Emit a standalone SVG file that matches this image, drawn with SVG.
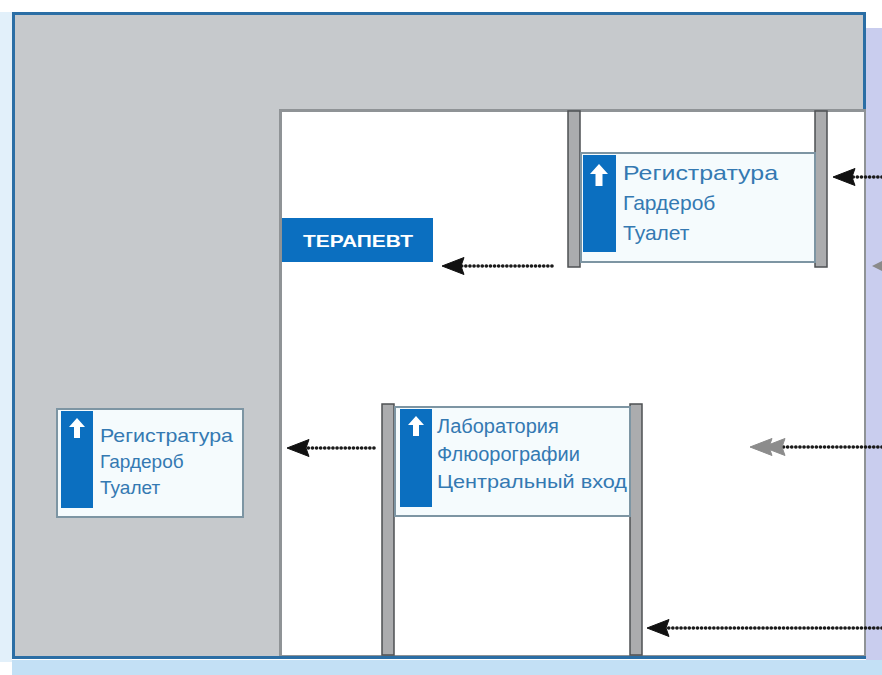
<svg xmlns="http://www.w3.org/2000/svg" width="882" height="675" viewBox="0 0 882 675">
<defs>
<style>
.frame{fill:#c6c9cc;stroke:#2b6ea5;stroke-width:3}
.floor{fill:#ffffff}
.post{fill:#abacae;stroke:#4e5053;stroke-width:1.5}
.panel{fill:#f5fbfd;stroke:#7d95a3;stroke-width:2}
.stripe{fill:#0b6fc0}
.icon{fill:#ffffff}
.lbl{font-family:"Liberation Sans",Arial,sans-serif;fill:#3479b2}
.dots{fill:none;stroke:#1a1a1a;stroke-width:3.6;stroke-dasharray:0.1 4;stroke-linecap:round}
.tag{font-family:"Liberation Sans",Arial,sans-serif;fill:#ffffff;font-size:17px;font-weight:bold}
</style>
<marker id="head" markerUnits="userSpaceOnUse" markerWidth="28" markerHeight="22" viewBox="-26 -11 28 22" refX="-16" refY="0" orient="auto">
<path d="M1,0 L-21,-8.5 L-18,0 L-21,8.5 Z" fill="#111" stroke="#111" stroke-width="1" stroke-linejoin="round"/>
</marker>
<marker id="head2" markerUnits="userSpaceOnUse" markerWidth="44" markerHeight="22" viewBox="-42 -11 44 22" refX="-31" refY="0" orient="auto">
<path d="M1,0 L-21,-8.5 L-18,0 L-21,8.5 Z M-12,0 L-34,-8.5 L-31,0 L-34,8.5 Z" fill="#8c8c8c" stroke="#8c8c8c" stroke-width="1" stroke-linejoin="round"/>
</marker>
</defs>

<g id="background">
<rect x="0" y="0" width="882" height="675" fill="#ffffff"/>
<rect x="866" y="28" width="16" height="632" fill="#c9cdee"/>
<rect x="12" y="660" width="870" height="15" fill="#c3e0f5"/>
<rect x="0" y="12" width="12" height="650" fill="#e2f0fa"/>
<rect class="frame" x="13.5" y="13.5" width="851" height="644"/>
<rect x="279" y="109" width="587" height="547" fill="#8f9396"/>
<rect class="floor" x="282" y="112" width="582" height="543"/>
</g>

<g id="sign-top">
<rect class="post" x="568" y="111" width="12" height="156"/>
<rect class="post" x="815" y="111" width="12" height="156"/>
<rect class="panel" x="581" y="153" width="234" height="109"/>
<rect class="stripe" x="583" y="155" width="33" height="97"/>
<path class="icon" d="M599,164 L608,174 L602.5,174 L602.5,186 L595.5,186 L595.5,174 L590,174 Z"/>
<text class="lbl" font-size="21" x="623" y="180" textLength="155" lengthAdjust="spacingAndGlyphs">Регистратура</text>
<text class="lbl" font-size="21" x="623" y="210">Гардероб</text>
<text class="lbl" font-size="21" x="623" y="240">Туалет</text>
</g>

<g id="terapevt">
<rect x="282" y="218" width="151" height="44" fill="#0b6fc0"/>
<text class="tag" x="358" y="247" text-anchor="middle" textLength="110" lengthAdjust="spacingAndGlyphs">ТЕРАПЕВТ</text>
</g>

<g id="sign-left">
<rect class="panel" x="57" y="409" width="186" height="108"/>
<rect class="stripe" x="61" y="411" width="32" height="97"/>
<path class="icon" d="M77,418 L85,427 L80,427 L80,438 L74,438 L74,427 L69,427 Z"/>
<text class="lbl" font-size="19" x="100" y="442" textLength="133" lengthAdjust="spacingAndGlyphs">Регистратура</text>
<text class="lbl" font-size="19" x="100" y="468">Гардероб</text>
<text class="lbl" font-size="19" x="100" y="494">Туалет</text>
</g>

<g id="sign-middle">
<rect class="post" x="382" y="404" width="12" height="251"/>
<rect class="post" x="630" y="404" width="12" height="251"/>
<rect class="panel" x="395" y="407" width="235" height="109"/>
<rect class="stripe" x="400" y="409" width="32" height="98"/>
<path class="icon" d="M416,416 L424,425 L419,425 L419,436 L413,436 L413,425 L408,425 Z"/>
<text class="lbl" font-size="20" x="437" y="433">Лаборатория</text>
<text class="lbl" font-size="20" x="437" y="461">Флюорографии</text>
<text class="lbl" font-size="19" x="437" y="488" textLength="190" lengthAdjust="spacingAndGlyphs">Центральный вход</text>
</g>

<g id="connectors">
<line class="dots" x1="882" y1="177" x2="850" y2="177" marker-end="url(#head)"/>
<line class="dots" x1="552" y1="266" x2="459" y2="266" marker-end="url(#head)"/>
<line class="dots" x1="374" y1="448" x2="304" y2="448" marker-end="url(#head)"/>
<line class="dots" x1="882" y1="447" x2="782" y2="447" marker-end="url(#head2)"/>
<line class="dots" x1="882" y1="628" x2="664" y2="628" marker-end="url(#head)"/>
<path d="M872,266 L884,260 L884,272 Z" fill="#8a8a8a"/>
</g>
</svg>
